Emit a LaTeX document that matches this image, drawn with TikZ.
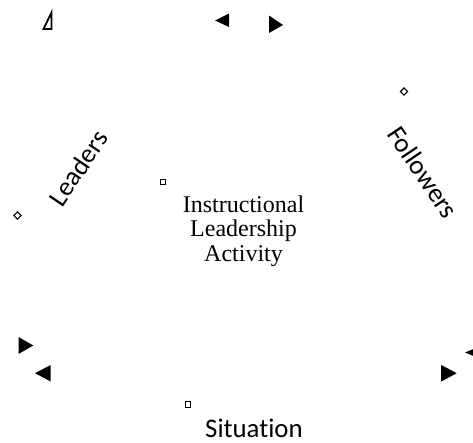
\documentclass[tikz,border=0pt]{standalone}
\usepackage{fontspec}
\setmainfont{Liberation Serif}
\newfontfamily\calib[Ligatures=NoCommon]{Carlito}
\begin{document}
\begin{tikzpicture}[x=1pt,y=-1pt,
  tri/.style={fill=black,draw=none},
  dia/.style={draw,line width=1.1pt,minimum size=5pt,inner sep=0pt,rotate=45},
  sq/.style={draw,line width=1.1pt,minimum size=5.5pt,inner sep=0pt},
  lbl/.style={font=\calib\fontsize{26.8}{28}\selectfont,inner sep=0pt},
  ctr/.style={font=\fontsize{24}{24.5}\selectfont,align=center,inner sep=0pt}]
\useasboundingbox (0,0) rectangle (473,442);
% top-left hollow triangle
\draw[line width=1.8pt,line join=miter] (43.5,29) -- (51.5,12.5) -- (51.5,29) -- cycle;
% top triangles
\fill (229,13.5) -- (229,27) -- (215,20.5) -- cycle;
\fill (269,15.5) -- (269,33) -- (283,25) -- cycle;
% bottom-left triangles
\fill (18.5,337) -- (18.5,354) -- (33.3,345.5) -- cycle;
\fill (50.7,365) -- (50.7,381.5) -- (35,373.2) -- cycle;
% bottom-right triangles
\fill (476,348) -- (476,357) -- (465,352.5) -- cycle;
\fill (441.2,365) -- (441.2,381.5) -- (456.7,373.2) -- cycle;
% markers
\node[dia] (dF) at (404,91.5) {};
\node[dia] (dL) at (17.5,215.5) {};
\node[sq] (sC) at (163,182) {};
\node[sq] (sS) at (188,404.5) {};
% labels
\node[lbl,rotate=56] (leaders) at (78,168) {Leaders};
\node[lbl,rotate=-56] (followers) at (423,172) {Followers};
\node[lbl,anchor=base west] (situation) at (205,437) {Situation};
\node[ctr,anchor=base] (ila) at (243.5,261) {Instructional\\Leadership\\Activity};
\end{tikzpicture}
\end{document}
